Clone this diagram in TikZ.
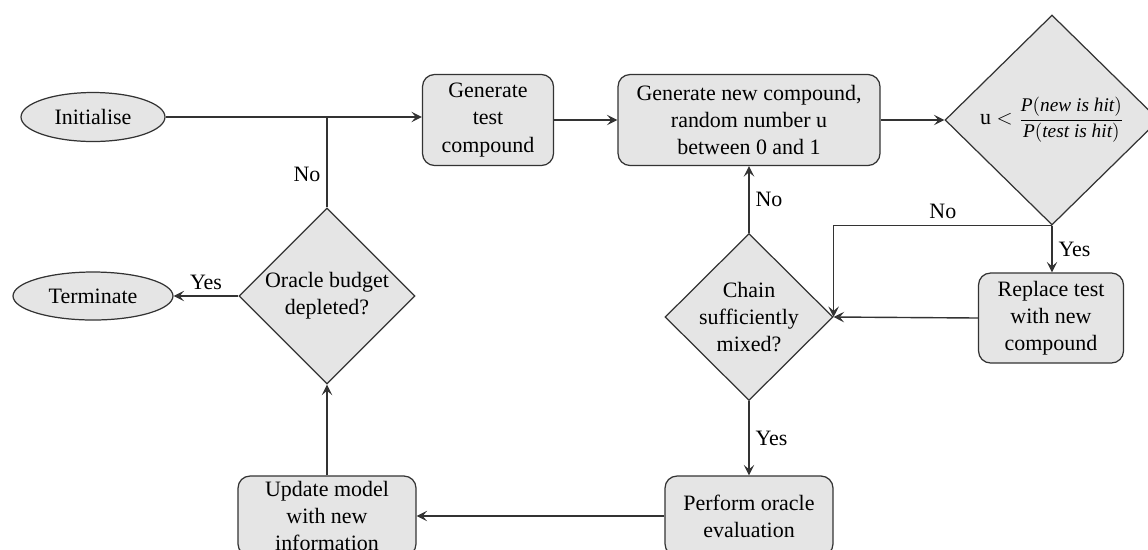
\documentclass[tikz,border=0pt]{standalone}
\usepackage{fontspec}
\setmainfont{Liberation Serif}
\usepackage{amsmath}
\usetikzlibrary{arrows,arrows.meta,shapes}

\begin{document}
\begin{tikzpicture}[x=0.02cm,y=-0.02cm,font=\fontsize{12.5}{15.5}\selectfont,
  box/.style={draw=black!80,fill=gray!20,line width=0.7pt,rounded corners=0.24cm,align=center,inner sep=2pt},
  terminal/.style={draw=black!80,fill=gray!20,line width=0.7pt,ellipse,inner sep=0pt},
  decision/.style={draw=black!80,fill=gray!20,line width=0.7pt,diamond,aspect=1,align=center,inner sep=-2pt},
  link/.style={draw=black!80,line width=0.8pt,-{Stealth[length=6pt,width=6pt,inset=2.5pt]}}]

\useasboundingbox (0,0) rectangle (1148,549);
\clip (0,0) rectangle (1148,549);

\node (init) at (93,117)[terminal,minimum width=2.88cm,minimum height=0.98cm] {Initialise};
\node (term) at (93,296)[terminal,minimum width=3.2cm,minimum height=0.96cm] {Terminate};
\node (test) at (488,120)[box,minimum width=2.62cm,minimum height=1.82cm] {Generate\\test\\compound};
\node (gen) at (749,120)[box,minimum width=5.24cm,minimum height=1.82cm] {Generate new compound,\\random number u\\between 0 and 1};
\node (accept) at (1052,120)[decision,minimum width=4.28cm,minimum height=4.2cm] {u $<$\;{\fontsize{11}{13}\selectfont$\dfrac{\text{\itshape P}(\text{\itshape new is hit})}{\text{\itshape P}(\text{\itshape test is hit})}$}};
\node (replace) at (1051,318)[box,minimum width=2.9cm,minimum height=1.8cm] {Replace test\\with new\\compound};
\node (mixed) at (749,317)[decision,minimum width=3.36cm,minimum height=3.34cm] {Chain\\sufficiently\\mixed?};
\node (oracle) at (749,516)[box,minimum width=3.36cm,minimum height=1.6cm] {Perform oracle\\evaluation};
\node (update) at (327,516)[box,minimum width=3.56cm,minimum height=1.6cm] {Update model\\with new\\information};
\node (budget) at (327,296)[decision,minimum width=3.52cm,minimum height=3.52cm] {Oracle budget\\depleted?};
\coordinate (join) at (budget.north |- init.east);

\draw[link] (init.east) -- (init.east -| test.west);
\draw[link] (test) -- (gen);
\draw[link] (gen) -- (accept);
\draw[link] (accept.south) -- (accept.south |- replace.north) node[midway,right] {Yes};
\draw[link] (accept.south) -| (mixed.east) node[pos=0.25,above] {No};
\draw[link] (replace.west) -- (mixed.east);
\draw[link] (mixed) -- (gen) node[midway,right] {No};
\draw[link] (mixed) -- (oracle) node[midway,right] {Yes};
\draw[link] (oracle) -- (update);
\draw[link] (update) -- (budget);
\draw[link] (budget) -- (term) node[midway,above] {Yes};
\draw[draw=black!80,line width=0.8pt] (budget) -- (join) node[pos=0.36,left] {No};
\end{tikzpicture}
\end{document}
